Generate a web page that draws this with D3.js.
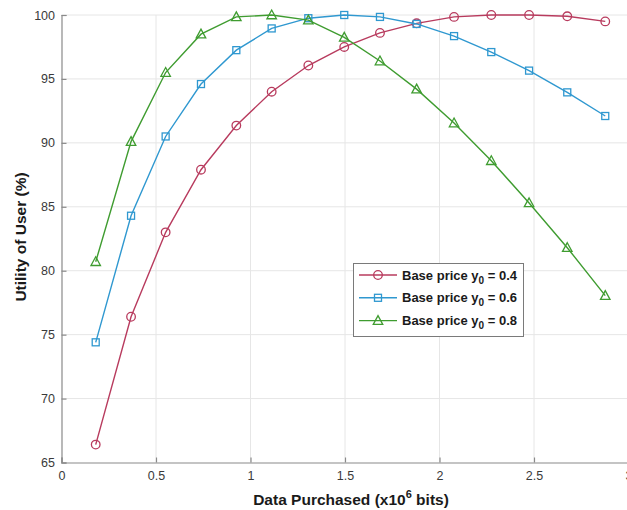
<!DOCTYPE html>
<html>
<head>
<meta charset="utf-8">
<script src="https://cdn.jsdelivr.net/npm/d3@7"></script>
<style>
  html, body { margin: 0; padding: 0; background: #fff; }
  svg { display: block; }
  text { font-family: "Liberation Sans", Arial, Helvetica, sans-serif; }
</style>
</head>
<body>
<svg id="chart" width="627" height="510"></svg>
<script>
// Data purchased (x10^6 bits)
const dataPurchased = [0.181, 0.368, 0.551, 0.738, 0.925, 1.112, 1.306, 1.496, 1.685, 1.879, 2.077, 2.274, 2.474, 2.676, 2.877];

// Utility of user (%) for each base price
const utilY04 = [66.4, 76.4, 83.0, 87.9, 91.35, 94.0, 96.05, 97.5, 98.6, 99.35, 99.85, 100.0, 100.0, 99.9, 99.5];
const utilY06 = [74.4, 84.3, 90.5, 94.6, 97.25, 98.95, 99.75, 100.0, 99.85, 99.3, 98.35, 97.1, 95.65, 93.95, 92.1];
const utilY08 = [80.7, 90.1, 95.5, 98.5, 99.85, 100.0, 99.6, 98.25, 96.4, 94.2, 91.55, 88.6, 85.3, 81.8, 78.05];

const seriesNames = ["0.4", "0.6", "0.8"];
const xTicks = [0, 0.5, 1, 1.5, 2, 2.5, 3];
const yTicks = [65, 70, 75, 80, 85, 90, 95, 100];

const series = [
  { name: seriesNames[0], values: utilY04, color: "#b83b5e", marker: "circle" },
  { name: seriesNames[1], values: utilY06, color: "#2f98d0", marker: "square" },
  { name: seriesNames[2], values: utilY08, color: "#3f9c30", marker: "triangle" }
];

const svg = d3.select("#chart");
const x = d3.scaleLinear().domain([0, 3]).range([61.5, 628.5]);
const y = d3.scaleLinear().domain([65, 100]).range([462.5, 15]);

// grid
const grid = svg.append("g");
grid.selectAll("line.vg").data(xTicks.filter(d => d > 0)).enter().append("line")
  .attr("x1", d => x(d)).attr("x2", d => x(d))
  .attr("y1", y(65)).attr("y2", y(100))
  .attr("stroke", "#e6e6e6").attr("stroke-width", 1);
grid.selectAll("line.hg").data(yTicks.filter(d => d > 65)).enter().append("line")
  .attr("x1", x(0)).attr("x2", x(3))
  .attr("y1", d => y(d)).attr("y2", d => y(d))
  .attr("stroke", "#e6e6e6").attr("stroke-width", 1);

// axes
const xAxis = d3.axisBottom(x).tickValues(xTicks).tickSize(-5).tickPadding(9)
  .tickFormat(d => d3.format("")(d));
const yAxis = d3.axisLeft(y).tickValues(yTicks).tickSize(-5).tickPadding(9);

const gx = svg.append("g").attr("transform", `translate(0,${y(65)})`).call(xAxis);
const gy = svg.append("g").attr("transform", `translate(${x(0)},0)`).call(yAxis);
[gx, gy].forEach(g => {
  g.select(".domain").attr("stroke", "#8a8a8a").attr("stroke-width", 1.2);
  g.selectAll(".tick line").attr("stroke", "#8a8a8a").attr("stroke-width", 1.2);
  g.selectAll(".tick text").attr("fill", "#3a3a3a").style("font-size", "12.5px")
    .style("font-family", "'Liberation Sans', Arial, sans-serif");
});
gy.selectAll(".tick text").attr("dx", "0.2em");

// axis labels
svg.append("text")
  .attr("x", 351).attr("y", 505)
  .attr("text-anchor", "middle")
  .style("font-size", "15.5px").style("font-weight", "bold").attr("fill", "#1a1a1a")
  .call(t => {
    t.append("tspan").text("Data Purchased (x10");
    t.append("tspan").attr("dy", -7).style("font-size", "11px").text("6");
    t.append("tspan").attr("dy", 7).text(" bits)");
  });

svg.append("text")
  .attr("transform", "translate(26,237) rotate(-90)")
  .attr("text-anchor", "middle")
  .style("font-size", "15.5px").style("font-weight", "bold").attr("fill", "#1a1a1a")
  .text("Utility of User (%)");

// markers
function drawMarker(g, type, cx, cy, color) {
  if (type === "circle") {
    g.append("circle").attr("cx", cx).attr("cy", cy).attr("r", 4.3)
      .attr("fill", "none").attr("stroke", color).attr("stroke-width", 1.3);
  } else if (type === "square") {
    g.append("rect").attr("x", cx - 3.5).attr("y", cy - 3.5).attr("width", 7).attr("height", 7)
      .attr("fill", "none").attr("stroke", color).attr("stroke-width", 1.3);
  } else {
    const s = 5;
    g.append("path")
      .attr("d", `M${cx},${cy - s}L${cx + s * 0.95},${cy + s * 0.75}L${cx - s * 0.95},${cy + s * 0.75}Z`)
      .attr("fill", "none").attr("stroke", color).attr("stroke-width", 1.3);
  }
}

const line = d3.line().x(d => x(d[0])).y(d => y(d[1]));
series.forEach(s => {
  const pts = dataPurchased.map((xv, i) => [xv, s.values[i]]);
  const g = svg.append("g");
  g.append("path").datum(pts).attr("d", line)
    .attr("fill", "none").attr("stroke", s.color).attr("stroke-width", 1.4);
  pts.forEach(p => drawMarker(g, s.marker, x(p[0]), y(p[1]), s.color));
});

// legend
const lg = svg.append("g");
lg.append("rect").attr("x", 353.5).attr("y", 263.5).attr("width", 170).attr("height", 73)
  .attr("fill", "#fff").attr("stroke", "#7a7a7a").attr("stroke-width", 1);
series.forEach((s, i) => {
  const cy = 275 + i * 22.8;
  lg.append("line").attr("x1", 359).attr("x2", 397).attr("y1", cy).attr("y2", cy)
    .attr("stroke", s.color).attr("stroke-width", 1.4);
  drawMarker(lg, s.marker, 378, cy, s.color);
  const t = lg.append("text").attr("x", 402).attr("y", cy + 4.5)
    .style("font-size", "13px").style("font-weight", "bold").attr("fill", "#1a1a1a");
  t.append("tspan").text("Base price y");
  t.append("tspan").attr("dy", 4).style("font-size", "10px").text("0");
  t.append("tspan").attr("dy", -4).text(" = " + s.name);
});
</script>
</body>
</html>
